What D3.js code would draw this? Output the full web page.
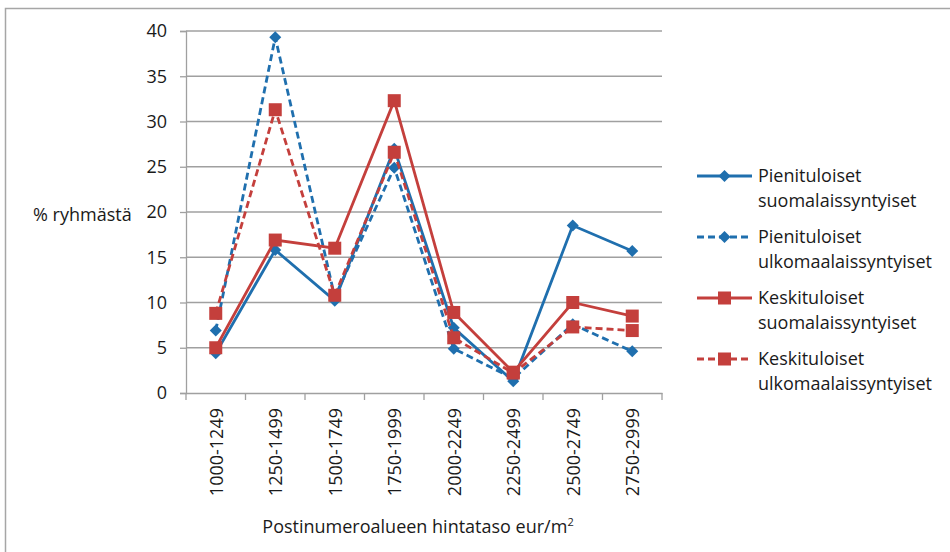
<!DOCTYPE html>
<html>
<head>
<meta charset="utf-8">
<script src="https://cdn.jsdelivr.net/npm/d3@7"></script>
<style>
  body { margin: 0; background: #fff; }
  svg text { font-family: "Open Sans", "Noto Sans", sans-serif; fill: #1a1a1a; }
</style>
</head>
<body>
<svg id="chart" width="950" height="552"></svg>
<script>
const categories = ["1000-1249", "1250-1499", "1500-1749", "1750-1999", "2000-2249", "2250-2499", "2500-2749", "2750-2999"];
const pieniSuomi = [4.4, 15.8, 10.2, 27.0, 7.2, 1.3, 18.5, 15.7];
const pieniUlko = [6.9, 39.3, 10.6, 24.9, 4.9, 1.6, 7.6, 4.6];
const keskiSuomi = [5.0, 16.9, 16.0, 32.3, 8.9, 2.3, 10.0, 8.5];
const keskiUlko = [8.8, 31.3, 10.8, 26.6, 6.1, 2.2, 7.3, 6.9];
const yTicks = [0, 5, 10, 15, 20, 25, 30, 35, 40];

const blue = "#1f6fae", red = "#c43f3c";
const fs = 18;
const series = [
  { name: ["Pienituloiset", "suomalaissyntyiset"], values: pieniSuomi, color: blue, dash: null, marker: "diamond" },
  { name: ["Pienituloiset", "ulkomaalaissyntyiset"], values: pieniUlko, color: blue, dash: "7,4", marker: "diamond" },
  { name: ["Keskituloiset", "suomalaissyntyiset"], values: keskiSuomi, color: red, dash: null, marker: "square" },
  { name: ["Keskituloiset", "ulkomaalaissyntyiset"], values: keskiUlko, color: red, dash: "7,4", marker: "square" }
];

const svg = d3.select("#chart");

// outer chart border (runs off the page to the right and bottom)
svg.append("rect").attr("x", 5.5).attr("y", 8.5).attr("width", 1000).attr("height", 600)
  .attr("fill", "none").attr("stroke", "#a6a6a6").attr("stroke-width", 1.5);

const x = d3.scaleBand().domain(categories).range([186, 662]);
const y = d3.scaleLinear().domain([0, 40]).range([393, 31]);

// gridlines
svg.append("g").selectAll("line").data(yTicks.filter(d => d > 0)).enter().append("line")
  .attr("x1", 186).attr("x2", 662)
  .attr("y1", d => y(d)).attr("y2", d => y(d))
  .attr("stroke", "#a0a0a0").attr("stroke-width", 1.3);

// y axis
const yAxis = svg.append("g").attr("transform", "translate(186,0)")
  .call(d3.axisLeft(y).tickValues(yTicks).tickSize(6).tickPadding(13));
yAxis.select(".domain").attr("stroke", "#a0a0a0").attr("stroke-width", 1.3);
yAxis.selectAll(".tick line").attr("stroke", "#a0a0a0").attr("stroke-width", 1.3);
yAxis.selectAll("text").attr("font-size", fs).attr("fill", "#1a1a1a")
  .style("font-family", "'Open Sans', sans-serif");

// x axis
const xAxis = svg.append("g").attr("transform", "translate(0,393)")
  .call(d3.axisBottom(x).tickSize(0).tickFormat(""));
xAxis.select(".domain").attr("stroke", "#a0a0a0").attr("stroke-width", 1.3);
svg.append("g").selectAll("line").data(d3.range(categories.length + 1)).enter().append("line")
  .attr("x1", i => 186 + i * x.step()).attr("x2", i => 186 + i * x.step())
  .attr("y1", 393).attr("y2", 400)
  .attr("stroke", "#a0a0a0").attr("stroke-width", 1.3);

svg.append("g").selectAll("text").data(categories).enter().append("text")
  .attr("transform", d => `translate(${x(d) + x.bandwidth() / 2 + 7},408) rotate(-90)`)
  .attr("text-anchor", "end").attr("font-size", fs).text(d => d);

// axis titles
svg.append("text").attr("x", 33).attr("y", 221).attr("font-size", fs).text("% ryhmästä");
const xt = svg.append("text").attr("x", 418).attr("y", 533).attr("text-anchor", "middle").attr("font-size", fs);
xt.append("tspan").text("Postinumeroalueen hintataso eur/m");
xt.append("tspan").attr("dy", -7).attr("font-size", 11).text("2");

// lines and markers
const line = d3.line().x((d, i) => x(categories[i]) + x.bandwidth() / 2).y(d => y(d));

function drawMarker(g, type, color, cx, cy) {
  if (type === "diamond") {
    g.append("path").attr("d", "M0,-6L6,0L0,6L-6,0Z")
      .attr("transform", `translate(${cx},${cy})`).attr("fill", color);
  } else {
    g.append("rect").attr("x", cx - 6.5).attr("y", cy - 6.5).attr("width", 13).attr("height", 13).attr("fill", color);
  }
}

series.forEach(s => {
  const g = svg.append("g");
  g.append("path").datum(s.values).attr("d", line)
    .attr("fill", "none").attr("stroke", s.color).attr("stroke-width", 2.8)
    .attr("stroke-dasharray", s.dash);
  s.values.forEach((v, i) => drawMarker(g, s.marker, s.color, x(categories[i]) + x.bandwidth() / 2, y(v)));
});

// legend
const legend = svg.append("g");
series.forEach((s, i) => {
  const ly = 176 + i * 61;
  legend.append("line").attr("x1", 697).attr("x2", 752).attr("y1", ly).attr("y2", ly)
    .attr("stroke", s.color).attr("stroke-width", 2.8).attr("stroke-dasharray", s.dash);
  drawMarker(legend, s.marker, s.color, 724.5, ly);
  const t = legend.append("text").attr("x", 758).attr("y", ly + 6).attr("font-size", fs);
  t.append("tspan").attr("x", 758).text(s.name[0]);
  t.append("tspan").attr("x", 758).attr("dy", 25).text(s.name[1]);
});
</script>
</body>
</html>
